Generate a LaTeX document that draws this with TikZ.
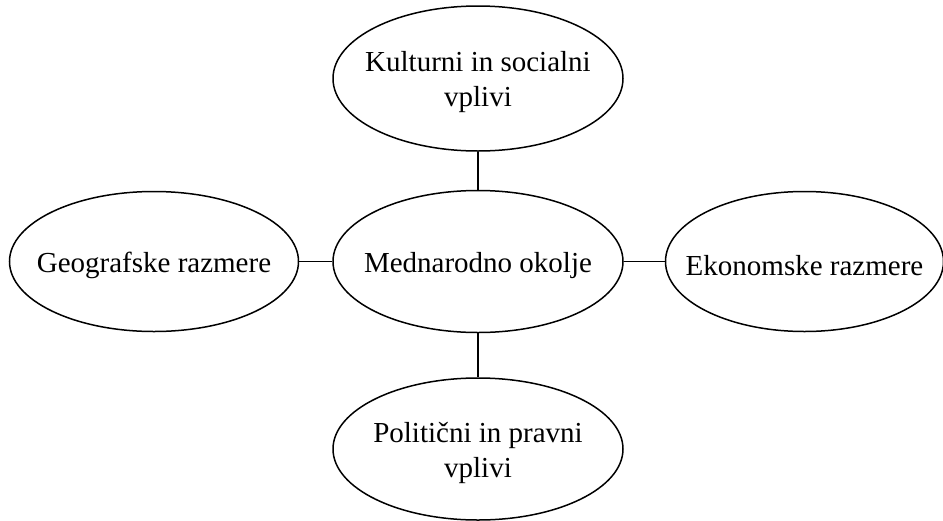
\documentclass[tikz,border=0pt]{standalone}
\usepackage{fontspec}
\setmainfont{Liberation Serif}
\usepackage{tikz}
\usetikzlibrary{positioning,shapes.geometric}

\begin{document}
\begin{tikzpicture}[
    x=1pt, y=1pt,
    oval/.style={ellipse, draw=black, line width=1.5pt, inner sep=0pt,
                 minimum width=#1, minimum height=142pt,
                 label={[font=\fontsize{29}{35}\selectfont, align=center, yshift=-4pt]center:\ovaltext}},
    oval/.default=290pt,
    link/.style={line width=1.5pt, black}
]
\useasboundingbox (0,0) rectangle (943,-520);
\def\ovaltext{Mednarodno okolje}
\node[oval] (okolje) at (478,-261.5) {};
\def\ovaltext{Kulturni in socialni\\vplivi}
\node[oval, minimum height=145pt, above=38pt of okolje] (kultura) {};
\def\ovaltext{Politični in pravni\\vplivi}
\node[oval, below=44pt of okolje] (politika) {};
\def\ovaltext{Geografske razmere}
\node[oval=289pt, minimum height=140pt, left=33pt of okolje] (geografija) {};
\def\ovaltext{Ekonomske razmere}
\node[oval=278pt, minimum height=140pt, right=41pt of okolje] (ekonomija) {};

\draw[link] (okolje) -- (kultura);
\draw[link] (okolje) -- (politika);
\draw[link] (okolje) -- (geografija);
\draw[link] (okolje) -- (ekonomija);
\end{tikzpicture}
\end{document}
